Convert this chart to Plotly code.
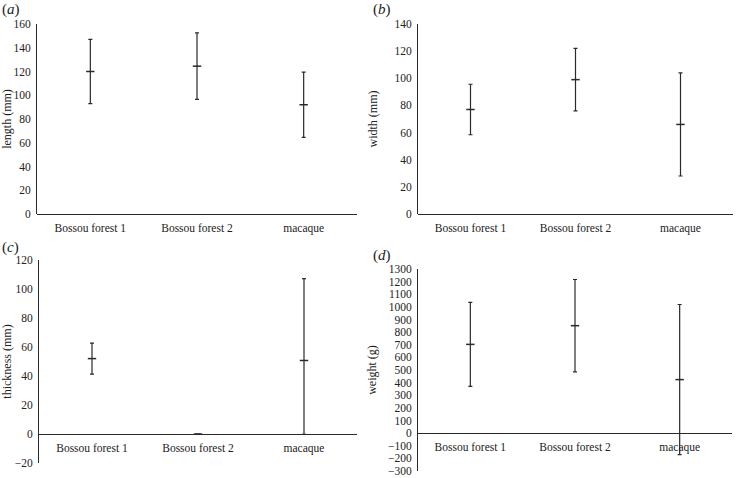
import plotly.graph_objects as go

categories = ["Bossou forest 1", "Bossou forest 2", "macaque"]

length_mean = [120, 124.5, 92]
length_err = [27, 28, 27.5]

width_mean = [77, 99, 66]
width_err = [18.6, 23, 38]

thick_mean = [52, 0, 50.7]
thick_err_plus = [10.7, 0, 56.4]
thick_err_minus = [10.7, 0, 51]

weight_mean = [703, 851, 424]
weight_err = [332, 366, 595]

panels = [
    dict(lbl="a", title="length (mm)", mean=length_mean, ep=length_err, em=length_err,
         yr=[0, 160], dt=20, xd=[37, 357], yd=[24, 214], lx=0, ly=9, so=14),
    dict(lbl="b", title="width (mm)", mean=width_mean, ep=width_err, em=width_err,
         yr=[0, 140], dt=20, xd=[418, 733], yd=[24, 214], lx=371, ly=9, so=14),
    dict(lbl="c", title="thickness (mm)", mean=thick_mean, ep=thick_err_plus, em=thick_err_minus,
         yr=[-20, 120], dt=20, xd=[39, 357], yd=[260, 463], lx=0, ly=247, so=13),
    dict(lbl="d", title="weight (g)", mean=weight_mean, ep=weight_err, em=weight_err,
         yr=[-300, 1300], dt=100, xd=[418, 732], yd=[269, 471], lx=371, ly=255, so=8),
]

W, H = 738, 478
FONT = "Liberation Serif, Times New Roman, serif"
LC = "#2a2a2a"
TC = "#222"

fig = go.Figure()
layout = dict(
    width=W, height=H, margin=dict(l=0, r=0, t=0, b=0, autoexpand=False),
    plot_bgcolor="white", paper_bgcolor="white", showlegend=False,
    font=dict(family=FONT, size=11, color=TC),
)
annotations = []
for i, p in enumerate(panels, start=1):
    xs = "" if i == 1 else str(i)
    xdom = [p["xd"][0] / W, p["xd"][1] / W]
    ydom = [1 - p["yd"][1] / H, 1 - p["yd"][0] / H]
    y0, y1 = p["yr"]
    zero_pos = ydom[0] + (0 - y0) / (y1 - y0) * (ydom[1] - ydom[0])
    fig.add_trace(go.Scatter(
        x=categories, y=p["mean"], mode="markers",
        marker=dict(symbol="line-ew", size=6, line=dict(width=1.5, color=LC), color=LC),
        error_y=dict(type="data", symmetric=False, array=p["ep"], arrayminus=p["em"],
                     color=LC, thickness=1.2, width=2),
        xaxis="x" + xs, yaxis="y" + xs, cliponaxis=False,
    ))
    layout["xaxis" + xs] = dict(
        domain=xdom, anchor="free", position=zero_pos, type="category",
        range=[-0.5, 2.5], showline=True, linecolor=LC, linewidth=1.1,
        showgrid=False, zeroline=False, ticks="", ticklabelstandoff=3, automargin=False,
        tickfont=dict(family=FONT, size=11.5, color=TC),
    )
    layout["yaxis" + xs] = dict(
        domain=ydom, anchor="x" + xs, range=p["yr"], dtick=p["dt"], tick0=0,
        showline=True, linecolor=LC, linewidth=1.1, showgrid=False, zeroline=False,
        ticks="", ticklabelstandoff=3, automargin=False,
        tickfont=dict(family=FONT, size=11.5, color=TC),
        title=dict(text=p["title"], font=dict(family=FONT, size=12, color=TC), standoff=p["so"]),
    )
    annotations.append(dict(
        text="(<i>" + p["lbl"] + "</i>)", x=p["lx"] / W, y=1 - p["ly"] / H,
        xref="paper", yref="paper", xanchor="left", yanchor="middle", showarrow=False,
        font=dict(family=FONT, size=15, color=TC),
    ))

layout["annotations"] = annotations
fig.update_layout(**layout)
fig.write_html(
    "out.html",
    config={"displayModeBar": False},
    post_script="document.body.style.margin='0';document.body.style.overflow='hidden';",
)
